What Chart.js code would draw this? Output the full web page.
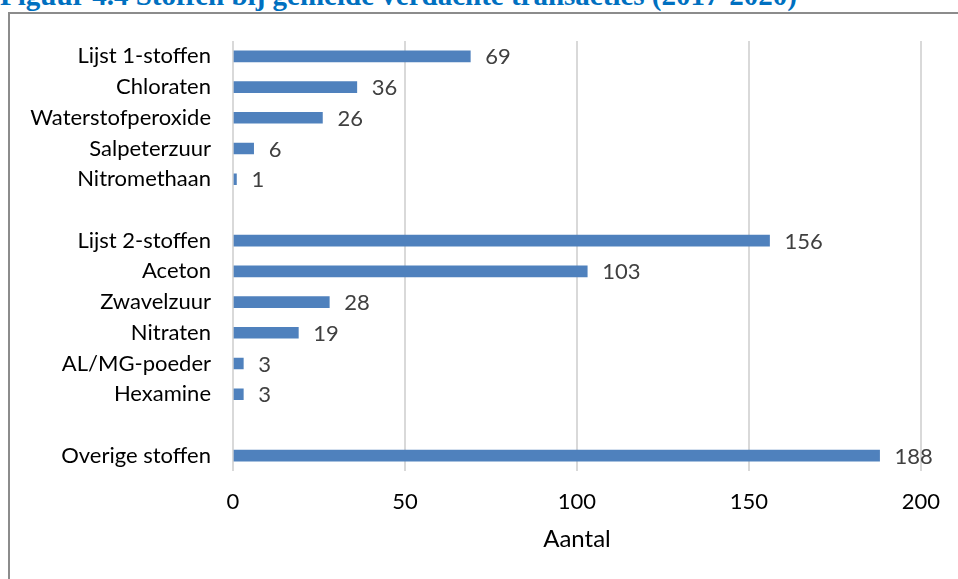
<!DOCTYPE html>
<html>
<head>
<meta charset="utf-8">
<script src="https://cdn.jsdelivr.net/npm/chart.js@4"></script>
<style>
  html, body { margin: 0; padding: 0; background: #fff; }
  body { width: 958px; height: 579px; position: relative; overflow: hidden; }
  #title {
    position: absolute; left: 0; top: -19px; white-space: nowrap;
    font: bold 29px/29px "Liberation Serif", "DejaVu Serif", serif; color: #0070c0;
  }
  #frame {
    position: absolute; left: 8px; top: 12px; width: 1000px; height: 700px;
    border-left: 2px solid #8c8c8c; border-top: 2px solid #8c8c8c;
  }
  #wrap { position: absolute; left: 0; top: 0; width: 958px; height: 579px; }
</style>
</head>
<body>
<div id="title">Figuur 4.4 Stoffen bij gemelde verdachte transacties (2017-2020)</div>
<div id="frame"></div>
<div id="wrap"><canvas id="stoffenChart"></canvas></div>
<script>
// == data == //
const CATEGORIES = [
  'Lijst 1-stoffen', 'Chloraten', 'Waterstofperoxide', 'Salpeterzuur', 'Nitromethaan',
  '',
  'Lijst 2-stoffen', 'Aceton', 'Zwavelzuur', 'Nitraten', 'AL/MG-poeder', 'Hexamine',
  '',
  'Overige stoffen'
];
const AANTAL = [69, 36, 26, 6, 1, null, 156, 103, 28, 19, 3, 3, null, 188];
const X_TICKS = [0, 50, 100, 150, 200];

const FONT = 'Lato';

// == waardelabels naast de balken == //
const barLabels = {
  id: 'barLabels',
  afterDatasetsDraw(chart) {
    const ctx = chart.ctx;
    const meta = chart.getDatasetMeta(0);
    ctx.save();
    ctx.font = '22px ' + FONT;
    ctx.fillStyle = '#404040';
    ctx.textAlign = 'left';
    ctx.textBaseline = 'middle';
    meta.data.forEach((bar, i) => {
      const v = AANTAL[i];
      if (v === null) return;
      ctx.fillText(String(v), bar.x + 15, bar.y + 1);
    });
    ctx.restore();
  }
};

new Chart($id('stoffenChart'), {
  type: 'bar',
  data: {
    labels: CATEGORIES,
    datasets: [{
      label: 'Aantal',
      data: AANTAL,
      backgroundColor: '#4f81bd',
      borderWidth: 0,
      barThickness: 11
    }]
  },
  plugins: [barLabels],
  options: {
    indexAxis: 'y',
    responsive: true,
    maintainAspectRatio: false,
    animation: false,
    layout: { padding: { left: 0, right: 34, top: 41, bottom: 0 } },
    plugins: {
      legend: { display: false },
      tooltip: { enabled: false }
    },
    scales: {
      x: {
        min: 0,
        max: 200,
        afterBuildTicks: (axis) => { axis.ticks = X_TICKS.map(v => ({ value: v })); },
        afterFit: (axis) => { axis.height = 108; },
        grid: { color: '#d9d9d9', lineWidth: 2, drawTicks: false },
        border: { display: false },
        ticks: { padding: 18, color: '#000', font: { family: FONT, size: 22 } },
        title: {
          display: true,
          text: 'Aantal',
          color: '#000',
          font: { family: FONT, size: 24 },
          padding: { top: 0, bottom: 25 }
        }
      },
      y: {
        afterFit: (axis) => { axis.width = 233; },
        grid: { display: false, drawTicks: false },
        border: { display: false },
        ticks: { padding: 22, color: '#000', autoSkip: false, font: { family: FONT, size: 22 } }
      }
    }
  }
});

function $id(id) { return document.getElementById(id); }
</script>
</body>
</html>
